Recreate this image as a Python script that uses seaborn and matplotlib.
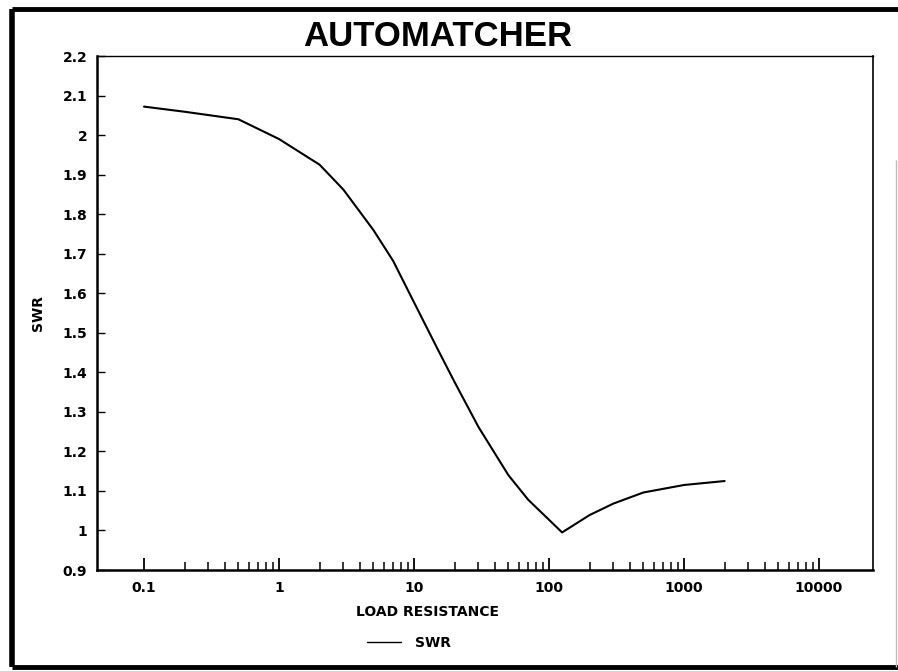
import matplotlib
matplotlib.use("Agg")
import matplotlib.pyplot as plt
from matplotlib.lines import Line2D
from matplotlib.ticker import FixedLocator, FixedFormatter, NullFormatter
import seaborn as sns
import pandas as pd

# Load resistance sweep and measured SWR
load_resistance = [0.1, 0.2, 0.5, 1, 2, 3, 5, 7, 10, 15, 20, 30, 50, 70, 100, 125,
                   200, 300, 500, 1000, 2000]
swr = [2.072, 2.059, 2.04, 1.99, 1.925, 1.862, 1.76, 1.682, 1.577, 1.458, 1.375,
       1.262, 1.14, 1.078, 1.027, 0.995, 1.039, 1.068, 1.096, 1.115, 1.125]

x_ticks = [0.1, 1, 10, 100, 1000, 10000]
x_tick_labels = ["0.1", "1", "10", "100", "1000", "10000"]
y_ticks = [0.9, 1.0, 1.1, 1.2, 1.3, 1.4, 1.5, 1.6, 1.7, 1.8, 1.9, 2.0, 2.1, 2.2]
y_tick_labels = ["0.9", "1", "1.1", "1.2", "1.3", "1.4", "1.5", "1.6", "1.7",
                 "1.8", "1.9", "2", "2.1", "2.2"]

df = pd.DataFrame({"LOAD RESISTANCE": load_resistance, "SWR": swr})

sns.set_theme(style="white")
plt.rcParams["font.family"] = ["DejaVu Sans"]
plt.rcParams["font.weight"] = "bold"
plt.rcParams["text.color"] = "black"

W, H = 898, 671
fig = plt.figure(figsize=(W / 100, H / 100), dpi=100)
fig.patch.set_facecolor("white")

ax = fig.add_axes([97 / W, 1 - 570 / H, (873 - 97) / W, (570 - 56) / H])
sns.lineplot(data=df, x="LOAD RESISTANCE", y="SWR", ax=ax, color="black",
             linewidth=1.5, label="SWR")

ax.set_xscale("log")
ax.set_xlim(0.1 * 10 ** (-(144 - 97) / 135), 10000 * 10 ** ((873 - 819) / 135))
ax.set_ylim(0.9, 2.2)

# minor ticks only inside the labelled decades
minor_x = [k * 10.0 ** d for d in range(-1, 4) for k in range(2, 10)]
ax.xaxis.set_major_locator(FixedLocator(x_ticks))
ax.xaxis.set_major_formatter(FixedFormatter(x_tick_labels))
ax.xaxis.set_minor_locator(FixedLocator(minor_x))
ax.xaxis.set_minor_formatter(NullFormatter())
ax.yaxis.set_major_locator(FixedLocator(y_ticks))
ax.yaxis.set_major_formatter(FixedFormatter(y_tick_labels))

ax.tick_params(axis="x", which="major", direction="in", length=8.5, width=1.3,
               pad=8, labelsize=10, colors="black", bottom=True)
ax.tick_params(axis="x", which="minor", direction="in", length=6, width=1.1,
               bottom=True, colors="black")
ax.tick_params(axis="y", which="major", direction="in", length=6, width=1.0,
               pad=7, labelsize=10, colors="black", left=True)
for lab in ax.get_xticklabels() + ax.get_yticklabels():
    lab.set_fontweight("bold")

for side, lw in [("left", 1.8), ("bottom", 1.8), ("top", 1.0), ("right", 1.2)]:
    ax.spines[side].set_visible(True)
    ax.spines[side].set_color("black")
    ax.spines[side].set_linewidth(lw)

ax.set_xlabel("")
ax.set_ylabel("")
fig.text(428 / W, 1 - 612 / H, "LOAD RESISTANCE", ha="center", va="center",
         fontsize=10, fontweight="bold", color="black")
fig.text(38 / W, 1 - 313 / H, "SWR", ha="center", va="center", rotation=90,
         fontsize=10, fontweight="bold", color="black")
fig.text(438 / W, 1 - 36 / H, "AUTOMATCHER", ha="center", va="center",
         fontsize=25, fontweight="bold", color="black",
         family=["Liberation Sans", "DejaVu Sans"])

leg = ax.legend(loc="center", bbox_to_anchor=(409 / W, 1 - 643 / H),
                bbox_transform=fig.transFigure, frameon=False,
                handlelength=2.4, handletextpad=1.0, fontsize=10)
for t in leg.get_texts():
    t.set_fontweight("bold")
    t.set_color("black")
for h in leg.get_lines():
    h.set_linewidth(1.0)

# Page frame around the chart
frame = [
    ((12 / W, 12 / W), (1 - 9 / H, 1 - 667 / H), 4.0, "black"),
    ((12 / W, 1.0), (1 - 9 / H, 1 - 9 / H), 3.5, "black"),
    ((12 / W, 1.0), (1 - 667 / H, 1 - 667 / H), 3.5, "black"),
    ((896 / W, 896 / W), (1 - 160 / H, 1 - 667 / H), 1.0, "#bbbbbb"),
]
for xs, ys, lw, c in frame:
    fig.add_artist(Line2D(xs, ys, transform=fig.transFigure, color=c,
                          linewidth=lw, solid_capstyle="butt"))

fig.savefig("out.png", dpi=100, facecolor="white")
